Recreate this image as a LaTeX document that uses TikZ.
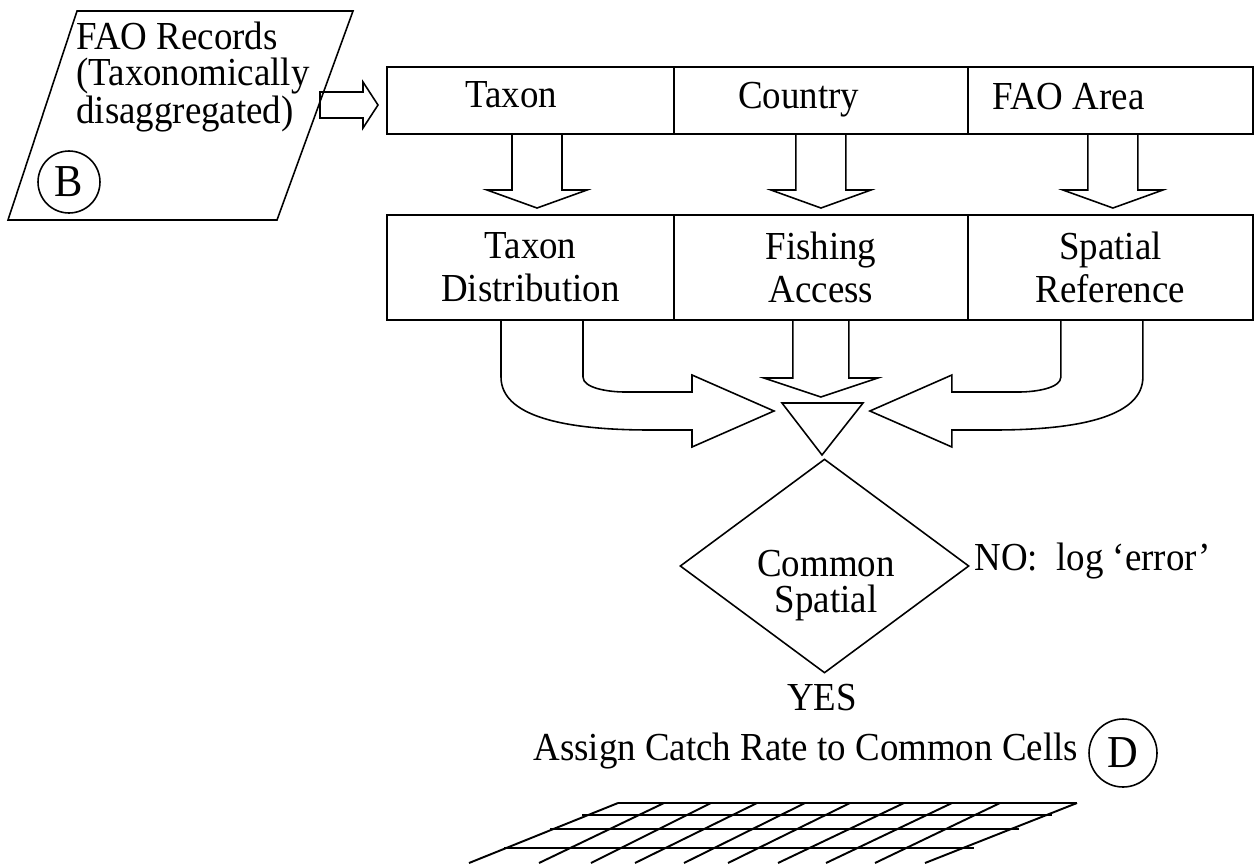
\documentclass[tikz,border=0pt]{standalone}
\usepackage{fontspec}
\setmainfont{Liberation Serif}[FakeStretch=0.93]
\usetikzlibrary{positioning,calc,shapes.geometric}

\tikzset{
  cell/.style={draw, line width=1.1pt, inner sep=0pt, outer sep=0pt, align=center, font=\fontsize{22.6}{24.5}\selectfont},
  txt/.style={inner sep=0pt, font=\fontsize{22.6}{24.5}\selectfont},
  blk/.style={draw, line width=0.9pt, line join=miter},
  tag/.style={draw, circle, line width=0.9pt, inner sep=0pt, font=\fontsize{26}{26}\selectfont},
  gridline/.style={line width=1.1pt}
}

\begin{document}
\begin{tikzpicture}[x=0.02cm, y=-0.02cm]
\useasboundingbox (0,0) rectangle (1254,863);

% input records
\draw[blk] (77,11) -- (353,11) -- (277,220) -- (8,220) -- cycle;
\node[txt, anchor=north west, align=left, font=\fontsize{22.6}{20.2}\selectfont] (recTxt) at (76,22) {FAO Records\\(Taxonomically\\disaggregated)};
\node[tag, minimum size=1.24cm] (recB) at (69,182) {B};
\coordinate (recOut) at (320,105);

% first row
\node[cell, minimum width=5.74cm, minimum height=1.34cm] (taxonBox) at (530.5,100.5) {};
\node[cell, minimum width=5.88cm, minimum height=1.34cm, right=0pt of taxonBox] (countryBox) {};
\node[cell, minimum width=5.70cm, minimum height=1.34cm, right=0pt of countryBox] (areaBox) {};
\node[txt, anchor=base west] (taxonTxt) at (465,107) {Taxon};
\node[txt, anchor=base west] (countryTxt) at (738,108) {Country};
\node[txt, anchor=base west] (areaTxt) at (992,109) {FAO Area};

\draw[blk] ($(recOut)+(0,-13)$) -- ++(43,0) -- ++(0,-10) -- ++(15,23) -- ++(-15,23) -- ++(0,-10) -- ++(-43,0) -- cycle;

% second row
\node[cell, minimum width=5.74cm, minimum height=2.10cm] (distBox) at (530.5,267.5) {Taxon\\Distribution};
\node[cell, minimum width=5.88cm, minimum height=2.10cm, right=0pt of distBox] (accessBox) {Fishing\\Access};
\node[cell, minimum width=5.70cm, minimum height=2.10cm, right=0pt of accessBox] (refBox) {Spatial\\Reference};

\draw[blk] ($(taxonBox.south)+(-18.5,0)$) -- ++(0,56) -- ++(-25,0) -- ($(distBox.north)+(6.5,-7)$) -- ++(50,-18) -- ++(-25,0) -- ++(0,-56);
\draw[blk] ($(countryBox.south)+(-25,0)$) -- ++(0,56) -- ++(-25,0) -- ($(accessBox.north)+(0,-7)$) -- ++(50,-18) -- ++(-25,0) -- ++(0,-56);
\draw[blk] ($(areaBox.south)+(-22.5,0)$) -- ++(0,56) -- ++(-25,0) -- ($(refBox.north)+(2.5,-7)$) -- ++(50,-18) -- ++(-25,0) -- ++(0,-56);

% merge
\coordinate (mergeL) at (782,403);
\coordinate (mergeR) at (863,403);
\coordinate (mergeTip) at (822,455);
\draw[blk] (mergeL) -- (mergeR) -- (mergeTip) -- cycle;

\draw[blk] ($(distBox.south)+(-29.5,0)$) -- ++(0,57) .. controls +(0,38) and +(-90,0) .. ++(149,53) -- ++(42,0) -- ++(0,17) -- ++(82,-36) -- ++(-82,-36) -- ++(0,17) -- ++(-67,0) .. controls +(-17,0) and +(0,11) .. ++(-42,-15) -- ++(0,-57);
\draw[blk] ($(accessBox.south)+(-28,0)$) -- ++(0,58) -- ++(-29,0) -- ++(57,19) -- ++(57,-19) -- ++(-29,0) -- ++(0,-58);
\draw[blk] ($(refBox.south)+(32.5,0)$) -- ++(0,57) .. controls +(0,38) and +(90,0) .. ++(-149,53) -- ++(-42,0) -- ++(0,17) -- ++(-82,-36) -- ++(82,-36) -- ++(0,17) -- ++(67,0) .. controls +(17,0) and +(0,11) .. ++(42,-15) -- ++(0,-57);

% decision
\node[draw, diamond, line width=0.9pt, inner sep=0pt, minimum width=5.78cm, minimum height=4.28cm] (commonDia) at (824.5,566) {};
\node[txt, align=center, font=\fontsize{22.6}{20.5}\selectfont] (commonTxt) at (826,586) {Common\\Spatial};
\node[txt, anchor=base west] (noTxt) at (974,570) {NO:\ \ log ‘error’};
\node[txt, anchor=base] (yesTxt) at (822,710) {YES};
\node[txt, anchor=base west] (assignTxt) at (533,760) {Assign Catch Rate to Common Cells};
\node[tag, minimum size=1.36cm] (assignD) at (1123,753) {D};

% cells
\draw[gridline] (618,803) -- (1077,803) (582,815) -- (1052,815) (550,829) -- (1019,829) (504,848) -- (974,848);
\draw[gridline] (618,803) -- (469,863) (664,803) -- (539,863) (711,803) -- (591,863) (757,803) -- (635,863) (805,803) -- (684,863);
\draw[gridline] (850,803) -- (728,863) (904,803) -- (778,863) (952,803) -- (826,863) (1000,803) -- (875,863) (1077,803) -- (925,863);
\end{tikzpicture}
\end{document}
